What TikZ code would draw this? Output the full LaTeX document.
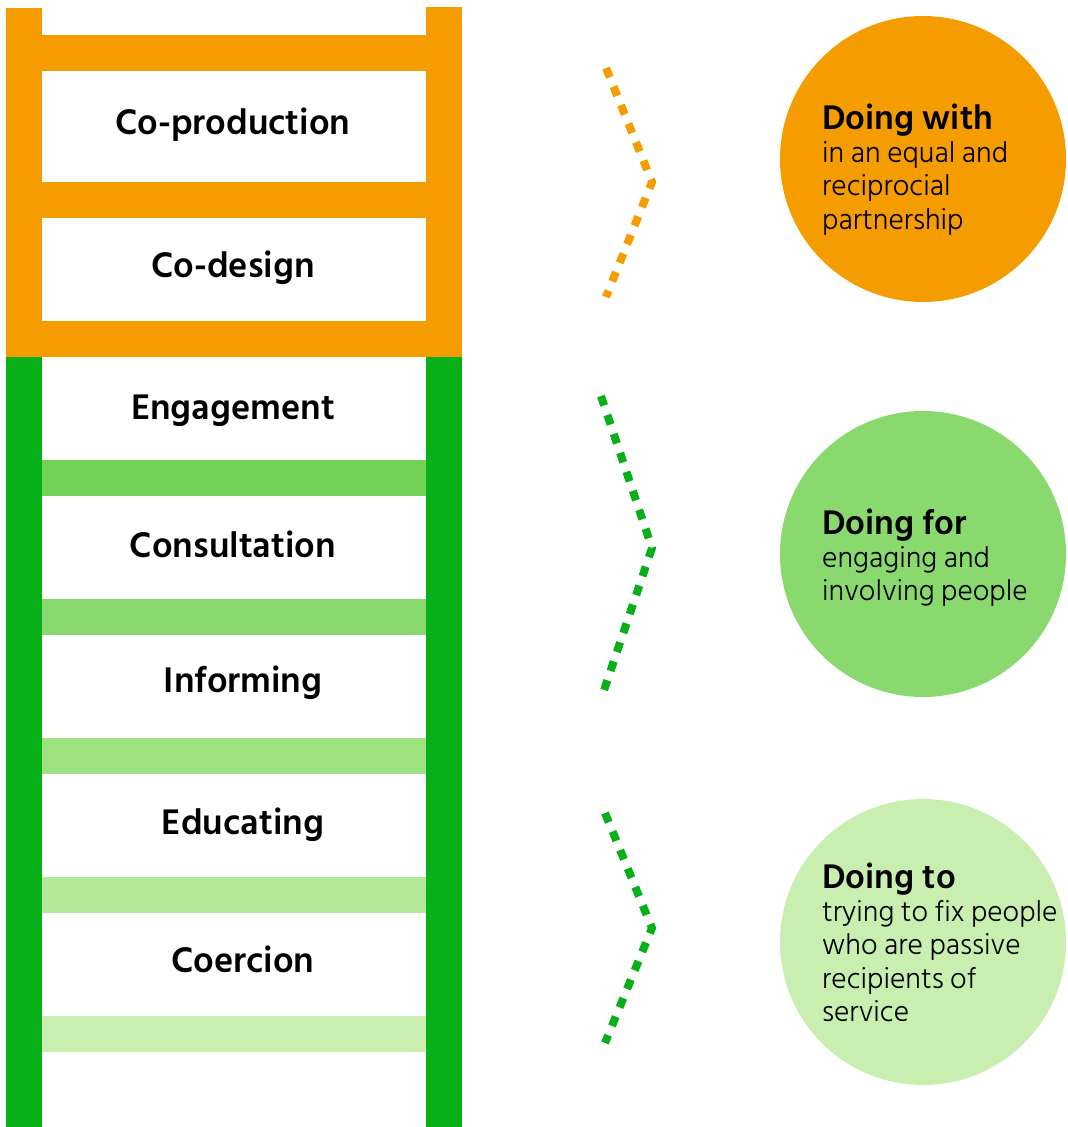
\documentclass[tikz,border=0pt]{standalone}
\usepackage{fontspec}
\setmainfont{Hind Siliguri}
\newfontfamily\thinfont{Hind Siliguri Light}
\usetikzlibrary{positioning}
\definecolor{amber}{RGB}{245,156,0}
\definecolor{railgreen}{RGB}{7,176,25}
\definecolor{rungA}{RGB}{114,210,86}
\definecolor{rungB}{RGB}{138,217,111}
\definecolor{rungC}{RGB}{158,226,127}
\definecolor{rungD}{RGB}{179,233,153}
\definecolor{rungE}{RGB}{200,239,176}
\tikzset{%
    rungtext/.style={anchor=base, inner sep=0pt, font=\fontsize{36.5}{40}\selectfont\bfseries},
    headtext/.style={anchor=base west, inner sep=0pt, font=\fontsize{35}{40}\selectfont\bfseries},
    bodytext/.style={anchor=base west, inner sep=0pt, font=\fontsize{29.5}{33}\thinfont},
    bubble/.style={circle, minimum size=286pt, inner sep=0pt},
    chevron/.style={line width=8pt, dash pattern=on 10pt off 10pt}
}

\begin{document}
\begin{tikzpicture}[x=1pt,y=-1pt]
    \useasboundingbox (0,0) rectangle (1068,1127);
    % ladder rails
    \fill[railgreen] (6,357) rectangle (42,1127);
    \fill[railgreen] (426,357) rectangle (462,1127);
    \fill[amber] (6,8) rectangle (42,357);
    \fill[amber] (426,7) rectangle (462,357);
    % rungs
    \foreach \y in {35,182,321}
    {
    \fill[amber] (42,\y) rectangle (426,\y+36);
    }
    \foreach \y/\c in {460/rungA,599/rungB,738/rungC,877/rungD,1016/rungE}
    {
    \fill[\c] (42,\y) rectangle (426,\y+36);
    }
    % steps
    \node[rungtext] (coprod) at (233,134) {Co-production};
    \node[rungtext] (codesign) at (233,277) {Co-design};
    \node[rungtext] (engage) at (233,419) {Engagement};
    \node[rungtext] (consult) at (233,557) {Consultation};
    \node[rungtext] (inform) at (243,692) {Informing};
    \node[rungtext] (educate) at (243,834) {Educating};
    \node[rungtext] (coerce) at (243,972) {Coercion};
    % chevrons
    \coordinate (withtop) at (606,68);
    \coordinate (withtip) at (652,182);
    \coordinate (withbot) at (606,297);
    \coordinate (fortop) at (601,396);
    \coordinate (fortip) at (652,548);
    \coordinate (forbot) at (601,699);
    \coordinate (totop) at (605,813);
    \coordinate (totip) at (652,928);
    \coordinate (tobot) at (605,1043);
    \draw[chevron, amber] (withtop) -- (withtip) -- (withbot);
    \draw[chevron, railgreen] (fortop) -- (fortip) -- (forbot);
    \draw[chevron, railgreen] (totop) -- (totip) -- (tobot);
    % circles
    \node[bubble, fill=amber] (with) at (923,159) {};
    \node[bubble, fill=rungB] (for) at (923,554) {};
    \node[bubble, fill=rungE] (to) at (923,942) {};
    \node[headtext] (withhead) at (822,129) {Doing with};
    \foreach \txt [count=\i] in {in an equal and,reciprocial,partnership}
    {
    \node[bodytext] (with\i) at (822,129+33.4*\i) {\txt};
    }
    \node[headtext] (forhead) at (822,534) {Doing for};
    \foreach \txt [count=\i] in {engaging and,involving people}
    {
    \node[bodytext] (for\i) at (822,534+33.4*\i) {\txt};
    }
    \node[headtext] (tohead) at (822,888) {Doing to};
    \foreach \txt [count=\i] in {trying to fix people,who are passive,recipients of,service}
    {
    \node[bodytext] (to\i) at (822,888+33.4*\i) {\txt};
    }
\end{tikzpicture}
\end{document}
